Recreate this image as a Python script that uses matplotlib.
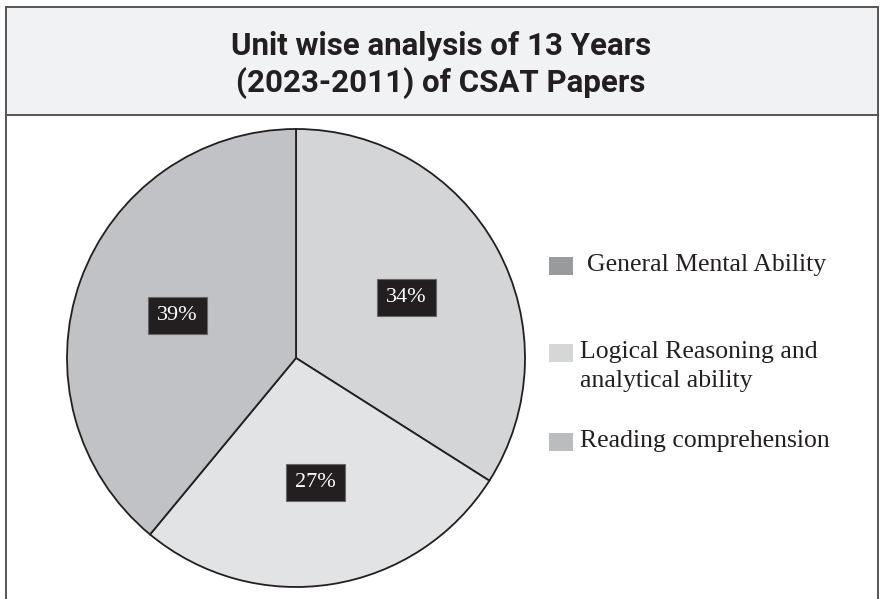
import matplotlib.pyplot as plt
from matplotlib.patches import Rectangle

# data
units = ['General Mental Ability', 'Logical Reasoning and\nanalytical ability', 'Reading comprehension']
shares = [34, 27, 39]
slice_colors = ['#d4d5d7', '#e2e3e5', '#c1c2c5']
legend_colors = ['#999a9c', '#d5d6d8', '#bbbcbe']
title = 'Unit wise analysis of 13 Years\n(2023-2011) of CSAT Papers'

W, H = 880, 599
fig = plt.figure(figsize=(W / 100, H / 100), dpi=100)
ax = fig.add_axes([0, 0, 1, 1])

# pie (y measured from bottom)
cx, cy, r = 296, H - 358, 229
ax.pie(shares, center=(cx, cy), radius=r, startangle=90, counterclock=False,
       colors=slice_colors, wedgeprops=dict(edgecolor='#231f20', linewidth=1.3),
       autopct=lambda p: '%d%%' % round(p), pctdistance=0.55,
       textprops=dict(color='white', family='Liberation Serif', fontsize=16),
       frame=False)
for t in ax.texts:
    t.set_bbox(dict(boxstyle='square,pad=0.4', facecolor='#231f20', edgecolor='#666666', linewidth=0.8))

ax.set_xlim(0, W)
ax.set_ylim(0, H)
ax.set_aspect('auto')
ax.axis('off')

# title box and frame
ax.add_patch(Rectangle((6, H - 115), W - 8, 108, facecolor='#f1f2f3', edgecolor='#555555', linewidth=1.4, zorder=0))
ax.plot([6, 6], [0, H - 115], color='#555555', linewidth=1.4)
ax.plot([W - 2, W - 2], [0, H - 115], color='#555555', linewidth=1.4)
ax.text(441, H - 65, title, ha='center', va='center', fontsize=22.5, fontweight='bold',
        family='Roboto', color='#231f20', linespacing=1.22)

# legend
leg_y = [H - 266, H - 353, H - 442]
text_x = [587, 580, 580]
for col, lab, y, tx in zip(legend_colors, units, leg_y, text_x):
    ax.add_patch(Rectangle((549, y - 9), 24, 18, facecolor=col, edgecolor='none'))
    ax.text(tx, y + 12 if '\n' in lab else y + 1, lab, ha='left', va='top' if '\n' in lab else 'center',
            fontsize=18.5, family='Liberation Serif', color='#231f20', linespacing=1.4)

plt.savefig('out.png')
